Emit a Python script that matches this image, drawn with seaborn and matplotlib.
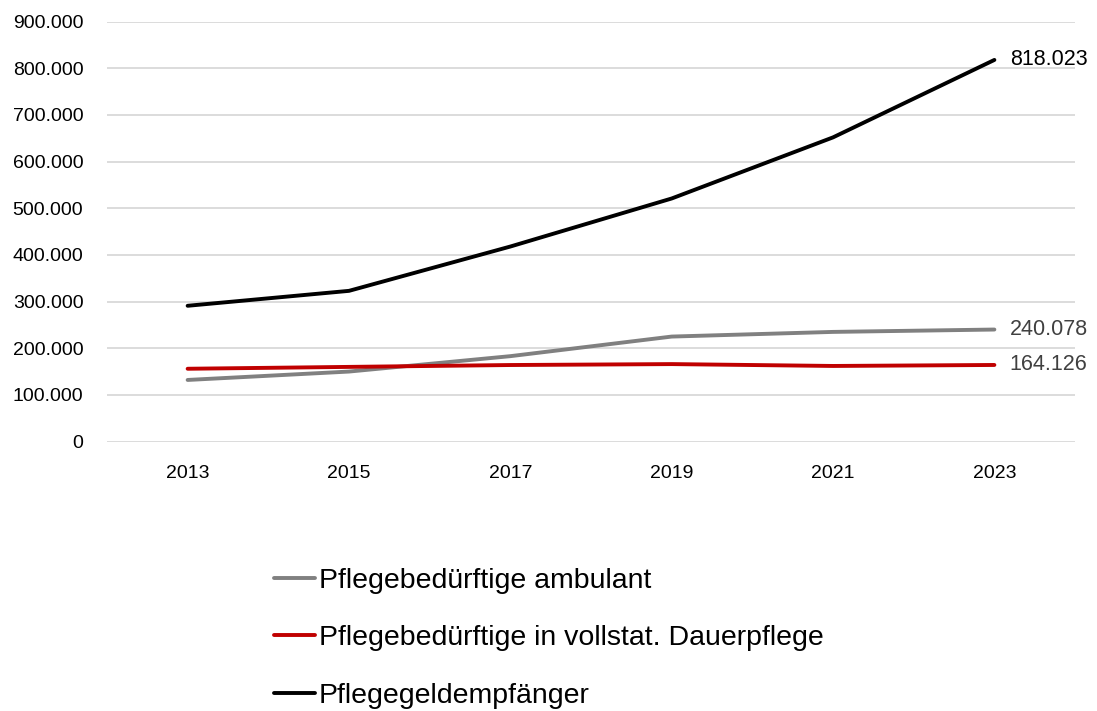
import pandas as pd
import matplotlib.pyplot as plt
import seaborn as sns

# data
years = [2013, 2015, 2017, 2019, 2021, 2023]
ambulant = [132000, 150000, 183000, 225000, 235000, 240078]
vollstat = [156000, 160000, 164000, 166000, 162000, 164126]
pflegegeld = [291000, 323000, 418000, 521000, 652000, 818023]

series_names = [
    "Pflegebedürftige ambulant",
    "Pflegebedürftige in vollstat. Dauerpflege",
    "Pflegegeldempfänger",
]
colors = ["#808080", "#C00000", "#000000"]
label_colors = ["#404040", "#404040", "#000000"]

df = pd.DataFrame({
    "Jahr": years * 3,
    "Wert": ambulant + vollstat + pflegegeld,
    "Reihe": [series_names[0]] * 6 + [series_names[1]] * 6 + [series_names[2]] * 6,
})

def fmt(v):
    return f"{int(v):,}".replace(",", ".")

sns.set_style("white")
plt.rcParams["font.family"] = ["Liberation Sans", "DejaVu Sans"]

fig = plt.figure(figsize=(10.97, 7.11), dpi=100)
ax = fig.add_axes([0.0975, 0.379, 0.8825, 0.5905])

sns.lineplot(
    data=df, x="Jahr", y="Wert", hue="Reihe",
    palette=dict(zip(series_names, colors)),
    linewidth=2.8, ax=ax, legend=False,
)

ax.set_xlim(2012, 2024)
ax.set_ylim(0, 900000)
ax.set_xticks(years)
ax.set_yticks(range(0, 900001, 100000))
ax.set_yticklabels([fmt(v) for v in range(0, 900001, 100000)])
ax.set_xlabel("")
ax.set_ylabel("")
ax.tick_params(axis="y", length=0, pad=17, labelsize=14, colors="#000000")
ax.tick_params(axis="x", length=0, pad=17, labelsize=14, colors="#000000")
ax.grid(axis="y", color="#d9d9d9", linewidth=1.3)
ax.set_axisbelow(True)
for s in ax.spines.values():
    s.set_visible(False)

# end labels
for vals, c in zip([ambulant, vollstat, pflegegeld], label_colors):
    ax.annotate(fmt(vals[-1]), (years[-1], vals[-1]), xytext=(11, 0),
                textcoords="offset points", va="center", ha="left",
                fontsize=15.5, color=c)

# legend
handles = [plt.Line2D([], [], color=c, linewidth=2.8) for c in colors]
leg = fig.legend(
    handles, series_names, loc="upper left", bbox_to_anchor=(0.226, 0.237),
    frameon=False, handlelength=1.45, handletextpad=0.15, labelspacing=1.1,
    prop={"size": 20.5},
)
for t in leg.get_texts():
    t.set_color("#000000")

fig.savefig("out.png", dpi=100)
